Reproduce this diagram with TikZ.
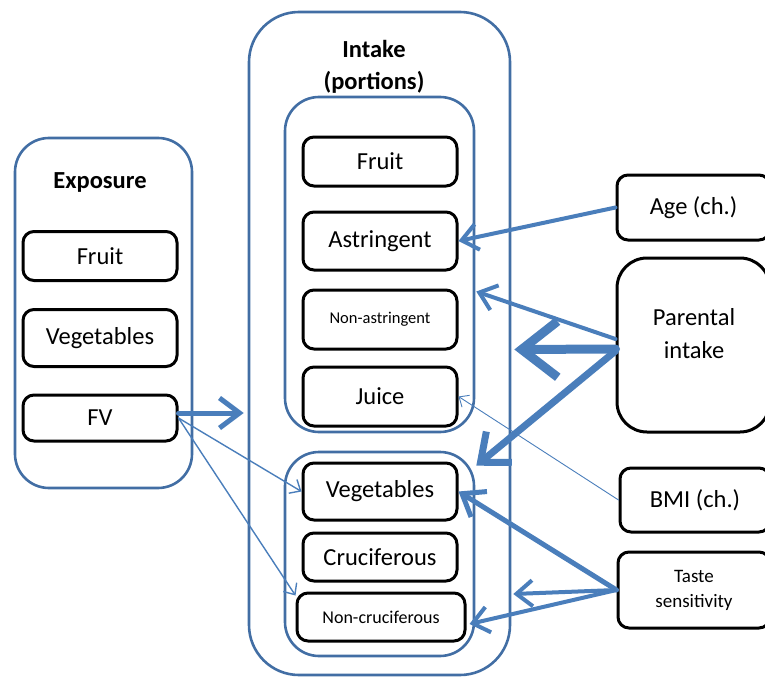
\documentclass[tikz,border=0pt]{standalone}
\usepackage{fontspec}
\setmainfont{Carlito}
\usetikzlibrary{arrows.meta,calc}
\definecolor{frameblue}{RGB}{66,110,164}
\definecolor{arrowblue}{RGB}{74,126,187}

\tikzset{
  frame/.style={draw=frameblue, line width=2.6pt, rounded corners=#1, inner sep=0pt},
  item/.style={draw=black, line width=3pt, rounded corners=11pt, inner sep=0pt,
    align=center, font=\fontsize{24.5}{32}\selectfont},
  smallitem/.style={item, font=\fontsize{18}{22}\selectfont},
  title/.style={font=\bfseries\fontsize{24.5}{32}\selectfont, align=center, inner sep=0pt},
  plain/.style={font=\fontsize{24.5}{33}\selectfont, align=center, inner sep=0pt},
  conn/.style={draw=arrowblue, line cap=round, line join=round},
  thinconn/.style={conn, line width=1.4pt, -{Straight Barb[length=9pt,width=16pt]}},
  hairconn/.style={conn, line width=0.9pt, -{Straight Barb[length=8pt,width=14pt]}},
  midconn/.style={conn, line width=4pt, -{Straight Barb[length=16pt,width=26pt]}},
  boldconn/.style={conn, line width=5pt, -{Straight Barb[length=20pt,width=30pt]}},
  heavyconn/.style={conn, line width=7pt, -{Straight Barb[length=24pt,width=40pt]}},
  hugeconn/.style={conn, line width=9pt, -{Straight Barb[length=36pt,width=56pt]}},
}

\begin{document}
\begin{tikzpicture}[x=1pt,y=-1pt]
\useasboundingbox (0,0) rectangle (765,677);

% Exposure column
\node[frame=34pt, minimum width=177pt, minimum height=350pt] (exposure) at (103.5,313) {};
\node[title] (exptitle) at (100,182) {Exposure};
\node[item, minimum width=154pt, minimum height=49pt] (efruit) at (100,256) {Fruit};
\node[item, minimum width=154pt, minimum height=57pt] (eveg) at (100,338) {Vegetables};
\node[item, minimum width=154pt, minimum height=46pt] (fv) at (100,418) {FV};

% Intake column
\node[frame=50pt, minimum width=261pt, minimum height=663pt] (intake) at (379.5,343.5) {};
\node[title] (inttitle) at (374,67) {Intake\\(portions)};

\node[frame=34pt, minimum width=189pt, minimum height=335pt] (fgroup) at (379.5,264.5) {};
\node[item, minimum width=154pt, minimum height=49pt] (ifruit) at (380,161.5) {Fruit};
\node[item, minimum width=154pt, minimum height=58pt] (astr) at (380,241) {Astringent};
\node[smallitem, font=\fontsize{16.5}{20}\selectfont, minimum width=154pt, minimum height=59pt] (nonastr) at (380,319.5) {Non-astringent};
\node[item, minimum width=154pt, minimum height=59pt] (juice) at (380,396.5) {Juice};

\node[frame=34pt, minimum width=189pt, minimum height=204pt] (vgroup) at (379.5,554) {};
\node[item, minimum width=154pt, minimum height=57pt] (veg) at (380,491.5) {Vegetables};
\node[item, minimum width=154pt, minimum height=48pt] (cruc) at (380,557) {Cruciferous};
\node[smallitem, minimum width=168pt, minimum height=48pt] (noncruc) at (381,617) {Non-cruciferous};

% Covariates on the right
\node[item, minimum width=153pt, minimum height=65pt] (age) at (693.5,207.5) {Age (ch.)};
\node[item, rounded corners=30pt, minimum width=153pt, minimum height=174pt] (parental) at (693.5,345) {};
\node[plain] (parentaltext) at (694,334) {Parental\\intake};
\node[item, minimum width=150pt, minimum height=64pt] (bmi) at (695,500) {BMI (ch.)};
\node[item, font=\fontsize{19}{25}\selectfont, minimum width=152pt, minimum height=76pt] (taste) at (694,590) {Taste\\sensitivity};

% Connectors
\draw[boldconn] ($(fv.east)+(0,-5)$) -- ($(fv.east -| intake.west)+(-4,-5)$);
\draw[thinconn] (fv.east) -- (veg.west);
\draw[thinconn] (fv.east) -- ($(noncruc.north west)+(0,4)$);

\draw[midconn] (age.west) -- (astr.east);

\draw[midconn] ($(parental.west)+(0,-6)$) -- ($(fgroup.east)+(1,27)$);
\draw[hugeconn] ($(parental.west)+(0,4)$) -- ($(intake.east)+(3,6)$);
\draw[heavyconn] ($(parental.west)+(0,6)$) -- ($(vgroup.north east)+(1,15)$);

\draw[hairconn] (bmi.west) -- (juice.east);

\draw[boldconn] (taste.west) -- (veg.east);
\draw[midconn] (taste.west) -- ($(taste.west -| intake.east)+(2,4)$);
\draw[midconn] (taste.west) -- ($(noncruc.east)+(3,7)$);
\end{tikzpicture}
\end{document}
